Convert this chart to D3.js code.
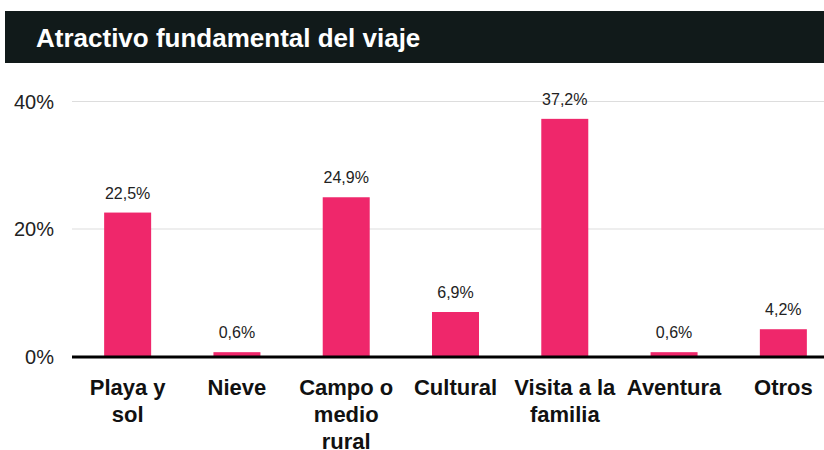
<!DOCTYPE html>
<html>
<head>
<meta charset="utf-8">
<script src="https://cdn.jsdelivr.net/npm/d3@7"></script>
<style>
  body { margin: 0; background: #fff; }
  svg { display: block; font-family: "Liberation Sans", Arial, Helvetica, sans-serif; }
</style>
</head>
<body>
<div id="chart"></div>
<script>
const CATEGORIES = ["Playa y sol", "Nieve", "Campo o medio rural", "Cultural", "Visita a la familia", "Aventura", "Otros"];
const VALUES = [22.5, 0.6, 24.9, 6.9, 37.2, 0.6, 4.2];
const Y_TICKS = [0, 20, 40];

const WIDTH = 824;
const HEIGHT = 450;

const SVG = d3.select("#chart").append("svg")
  .attr("width", WIDTH)
  .attr("height", HEIGHT);

// title bar
SVG.append("rect")
  .attr("x", 5)
  .attr("y", 11)
  .attr("width", WIDTH - 5)
  .attr("height", 52)
  .attr("fill", "#111a1a");

SVG.append("text")
  .attr("x", 36)
  .attr("y", 47)
  .attr("fill", "#fff")
  .attr("font-size", 26)
  .attr("font-weight", "bold")
  .text("Atractivo fundamental del viaje");

const X_SCALE = d3.scaleBand()
  .domain(CATEGORIES)
  .range([73, 838])
  .paddingInner(0.57)
  .paddingOuter(0.285);

const Y_SCALE = d3.scaleLinear()
  .domain([0, 40])
  .range([356, 101]);

// grid
SVG.append("g")
  .selectAll("line")
  .data(Y_TICKS.filter((d) => d > 0))
  .join("line")
  .attr("x1", 72)
  .attr("x2", WIDTH)
  .attr("y1", (d) => Y_SCALE(d) + 0.5)
  .attr("y2", (d) => Y_SCALE(d) + 0.5)
  .attr("stroke", "#dddddd")
  .attr("stroke-width", 1);

const Y_AXIS = d3.axisLeft(Y_SCALE)
  .tickValues(Y_TICKS)
  .tickFormat((d) => d + "%")
  .tickSize(0)
  .tickPadding(0);

const Y_G = SVG.append("g")
  .attr("transform", "translate(54,0)")
  .call(Y_AXIS);
Y_G.select(".domain").remove();
Y_G.selectAll("text")
  .attr("font-size", 20)
  .attr("fill", "#222")
  .attr("font-family", "Liberation Sans, Arial, sans-serif")
  .attr("dy", "0.36em");

// bars
SVG.append("g")
  .selectAll("rect")
  .data(VALUES)
  .join("rect")
  .attr("x", (d, i) => X_SCALE(CATEGORIES[i]))
  .attr("width", X_SCALE.bandwidth())
  .attr("y", (d) => Y_SCALE(d))
  .attr("height", (d) => Y_SCALE(0) - Y_SCALE(d))
  .attr("fill", "#ef276b");

// value labels
SVG.append("g")
  .selectAll("text")
  .data(VALUES)
  .join("text")
  .attr("x", (d, i) => X_SCALE(CATEGORIES[i]) + X_SCALE.bandwidth() / 2)
  .attr("y", (d) => Y_SCALE(d) - 14)
  .attr("text-anchor", "middle")
  .attr("font-size", 16)
  .attr("fill", "#222")
  .text((d) => String(d).replace(".", ",") + "%");

// baseline
SVG.append("line")
  .attr("x1", 72)
  .attr("x2", WIDTH)
  .attr("y1", Y_SCALE(0) + 1)
  .attr("y2", Y_SCALE(0) + 1)
  .attr("stroke", "#000")
  .attr("stroke-width", 3);

// x axis labels
const X_AXIS = d3.axisBottom(X_SCALE).tickSize(0).tickPadding(0);
const X_G = SVG.append("g")
  .attr("transform", "translate(0,395)")
  .call(X_AXIS);
X_G.select(".domain").remove();
X_G.selectAll("text")
  .attr("font-size", 22)
  .attr("font-weight", "bold")
  .attr("fill", "#111")
  .attr("font-family", "Liberation Sans, Arial, sans-serif")
  .attr("dy", 0)
  .call(wrap, 106);

function wrap(texts, width) {
  texts.each(function () {
    const text = d3.select(this);
    const words = text.text().split(/\s+/);
    text.text(null);
    let line = [];
    let tspan = text.append("tspan").attr("x", 0).attr("dy", 0);
    words.forEach((word) => {
      line.push(word);
      tspan.text(line.join(" "));
      if (tspan.node().getComputedTextLength() > width && line.length > 1) {
        line.pop();
        tspan.text(line.join(" "));
        line = [word];
        tspan = text.append("tspan").attr("x", 0).attr("dy", 27).text(word);
      }
    });
  });
}
</script>
</body>
</html>
